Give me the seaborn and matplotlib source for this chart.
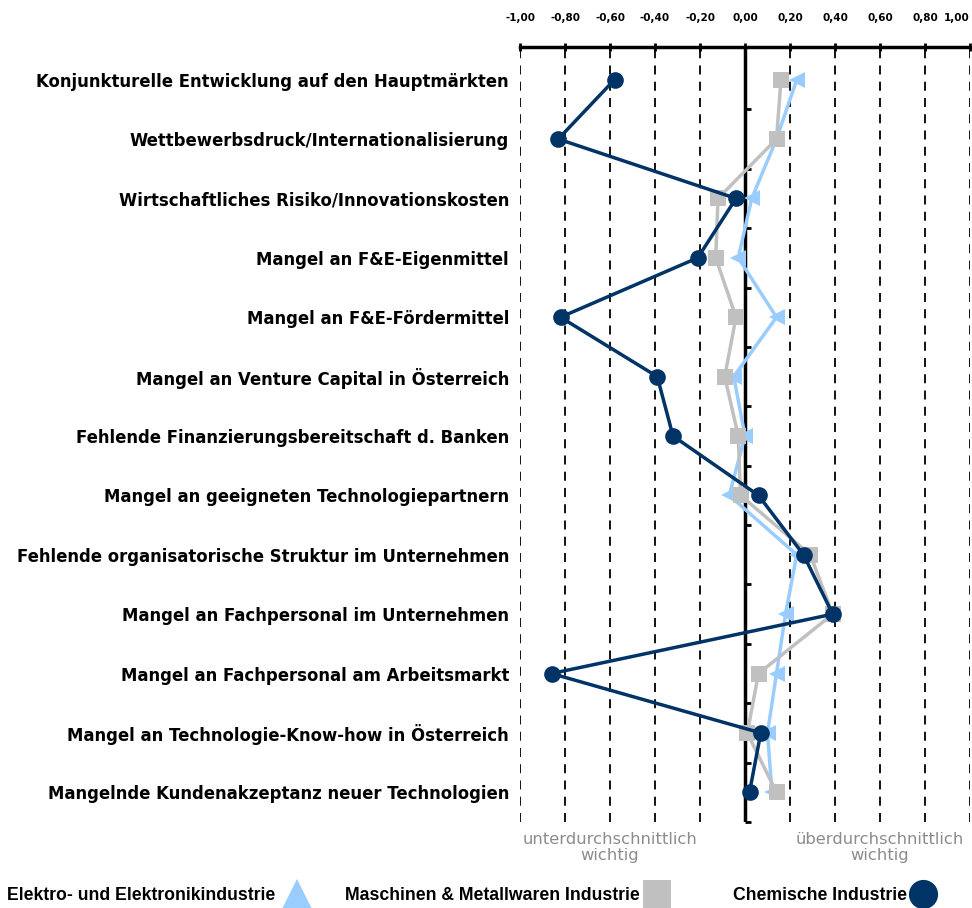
import numpy as np
import pandas as pd
import matplotlib
matplotlib.use("Agg")
import matplotlib.pyplot as plt
from matplotlib.lines import Line2D
import seaborn as sns

categories = [
    "Konjunkturelle Entwicklung auf den Hauptmärkten",
    "Wettbewerbsdruck/Internationalisierung",
    "Wirtschaftliches Risiko/Innovationskosten",
    "Mangel an F&E-Eigenmittel",
    "Mangel an F&E-Fördermittel",
    "Mangel an Venture Capital in Österreich",
    "Fehlende Finanzierungsbereitschaft d. Banken",
    "Mangel an geeigneten Technologiepartnern",
    "Fehlende organisatorische Struktur im Unternehmen",
    "Mangel an Fachpersonal im Unternehmen",
    "Mangel an Fachpersonal am Arbeitsmarkt",
    "Mangel an Technologie-Know-how in Österreich",
    "Mangelnde Kundenakzeptanz neuer Technologien",
]
elektro = [0.23, 0.14, 0.03, -0.03, 0.14, -0.05, 0.00, -0.07, 0.23, 0.18, 0.14, 0.10, 0.12]
maschinen = [0.16, 0.14, -0.12, -0.13, -0.04, -0.09, -0.03, -0.02, 0.29, 0.39, 0.06, 0.01, 0.14]
chemie = [-0.58, -0.83, -0.04, -0.21, -0.82, -0.39, -0.32, 0.06, 0.26, 0.39, -0.86, 0.07, 0.02]
series_names = ["Elektro- und Elektronikindustrie", "Maschinen & Metallwaren Industrie", "Chemische Industrie"]
tick_values = [-1.0, -0.8, -0.6, -0.4, -0.2, 0.0, 0.2, 0.4, 0.6, 0.8, 1.0]
tick_labels = ["-1,00", "-0,80", "-0,60", "-0,40", "-0,20", "0,00", "0,20", "0,40", "0,60", "0,80", "1,00"]

colors = {"Elektro- und Elektronikindustrie": "#99CCFF",
          "Maschinen & Metallwaren Industrie": "#C0C0C0",
          "Chemische Industrie": "#003366"}
markers = {"Elektro- und Elektronikindustrie": "<",
           "Maschinen & Metallwaren Industrie": "s",
           "Chemische Industrie": "o"}
msizes = {"Elektro- und Elektronikindustrie": 11.5,
          "Maschinen & Metallwaren Industrie": 11,
          "Chemische Industrie": 12}

sns.set_theme(style="white")
plt.rcParams['font.family'] = ['DejaVu Sans']
plt.rcParams['text.color'] = 'black'
plt.rcParams['xtick.color'] = 'black'
plt.rcParams['ytick.color'] = 'black'

fig = plt.figure(figsize=(9.72, 9.08), dpi=100)
ax = fig.add_axes([520/972, 1-822/908, 450/972, (822-47)/908])

pos = np.arange(len(categories))
for name, vals in zip(series_names, [elektro, maschinen, chemie]):
    df = pd.DataFrame({"x": vals, "y": pos})
    sns.lineplot(data=df, x="x", y="y", sort=False, estimator=None, ax=ax,
                 color=colors[name], lw=2.5, marker=markers[name],
                 markersize=msizes[name], markeredgewidth=0,
                 markeredgecolor=colors[name], zorder=3)

ax.set_xlim(-1, 1)
ax.set_ylim(len(categories) - 0.5, -0.55)
ax.set_xlabel("")
ax.set_ylabel("")

# grid lines
for v in tick_values:
    if abs(v) > 1e-9:
        ax.axvline(v, color="black", lw=1.3, ls=(0, (5, 4)), zorder=1)
ax.axvline(0, color="black", lw=2.5, zorder=2)

ax.xaxis.tick_top()
ax.set_xticks(tick_values)
ax.set_xticklabels(tick_labels, fontsize=7.5, fontweight="bold", color="black")
ax.get_xticklabels()[-1].set_horizontalalignment("right")
ax.tick_params(axis="x", direction="inout", length=6, width=2, pad=14, colors="black")

ax.set_yticks(pos)
ax.set_yticklabels(categories, fontsize=11.9, fontweight="bold", color="black")
ax.tick_params(axis="y", length=0, pad=8)

for s in ["left", "right", "bottom"]:
    ax.spines[s].set_visible(False)
ax.spines["top"].set_linewidth(2.5)
ax.spines["top"].set_color("black")

sec = ax.secondary_yaxis(0.5)
sec.set_yticks(np.arange(len(categories)) + 0.5)
sec.set_yticklabels([])
sec.tick_params(axis="y", direction="out", length=4, width=2, colors="black")
sec.spines["left"].set_visible(False)
sec.spines["right"].set_visible(False)

ax.text(-0.6, len(categories) - 0.5 + 0.16, "unterdurchschnittlich\nwichtig", ha="center", va="top",
        color="#8C8C8C", fontsize=11.8, linespacing=1.15)
ax.text(0.6, len(categories) - 0.5 + 0.16, "überdurchschnittlich\nwichtig", ha="center", va="top",
        color="#8C8C8C", fontsize=11.8, linespacing=1.15)

# legend: one entry each, placed along the bottom
leg_markers = {"Elektro- und Elektronikindustrie": "^",
               "Maschinen & Metallwaren Industrie": "s",
               "Chemische Industrie": "o"}
leg_msize = {"Elektro- und Elektronikindustrie": 22,
             "Maschinen & Metallwaren Industrie": 20,
             "Chemische Industrie": 21}
leg_x = {"Elektro- und Elektronikindustrie": 7,
         "Maschinen & Metallwaren Industrie": 345,
         "Chemische Industrie": 733}
leg_hl = {"Elektro- und Elektronikindustrie": 2.5,
          "Maschinen & Metallwaren Industrie": 1.9,
          "Chemische Industrie": 1.8}
for n in series_names:
    h = Line2D([], [], ls="none", marker=leg_markers[n], color=colors[n],
               markersize=leg_msize[n], markeredgewidth=0)
    lg = fig.legend([h], [n], loc="center left",
                    bbox_to_anchor=(leg_x[n]/972, 1-896/908),
                    frameon=False, markerfirst=False, handletextpad=0.0,
                    handlelength=leg_hl[n], borderpad=0, borderaxespad=0,
                    prop={"family": "Liberation Sans", "weight": "bold", "size": 12.7})

fig.savefig("out.png", dpi=100)
